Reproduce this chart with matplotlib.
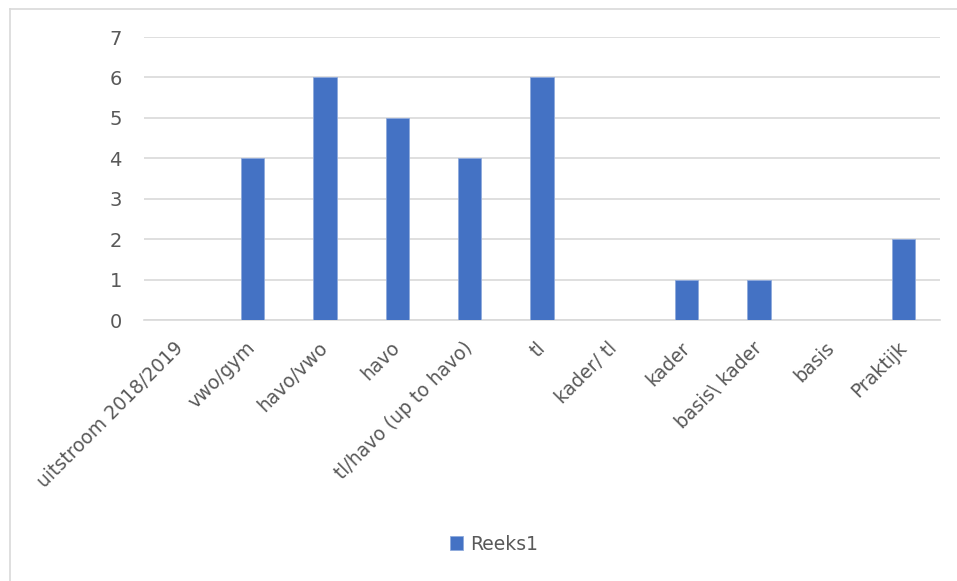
# Uitstroom 2018/2019 bar chart (Excel style, single series "Reeks1")

import matplotlib.pyplot as plt
import numpy as np
from matplotlib.lines import Line2D

BLUE = "#4472C4"
GRID = "#D9D9D9"
TXT = "#595959"

# Categories and counts
categories = [
    "uitstroom 2018/2019",
    "vwo/gym",
    "havo/vwo",
    "havo",
    "tl/havo (up to havo)",
    "tl",
    "kader/ tl",
    "kader",
    "basis\\ kader",
    "basis",
    "Praktijk",
]
values = [0, 4, 6, 5, 4, 6, 0, 1, 1, 0, 2]
series_name = "Reeks1"

plt.rcParams["font.family"] = ["DejaVu Sans"]

fig = plt.figure(figsize=(9.57, 5.81), dpi=100)
ax = fig.add_axes([0.1505, 0.4492, 0.8317, 0.4871])

x = np.arange(len(categories))
ax.bar(x, values, width=0.32, color=BLUE, edgecolor="#8FAADC", linewidth=0.6,
       label=series_name, zorder=3)

ax.set_xlim(-0.5, len(categories) - 0.5)
ax.set_ylim(0, 7)
ax.set_yticks(range(0, 8))
ax.yaxis.grid(True, color=GRID, linewidth=1.2, zorder=0)
ax.set_axisbelow(True)

for s in ["top", "right", "left"]:
    ax.spines[s].set_visible(False)
ax.spines["bottom"].set_color(GRID)
ax.spines["bottom"].set_linewidth(1.2)

ax.tick_params(axis="y", length=0, pad=16, labelsize=14, labelcolor=TXT)
ax.tick_params(axis="x", length=0, pad=18, labelsize=13.5, labelcolor=TXT)
ax.set_xticks(x)
ax.set_xticklabels(categories, rotation=45, ha="right", va="center",
                   rotation_mode="anchor")

# Legend at the bottom
ax.legend(loc="center left", bbox_to_anchor=(433 / 957, 1 - 544 / 581),
          bbox_transform=fig.transFigure, frameon=False, fontsize=13.5,
          labelcolor=TXT, handlelength=0.7, handleheight=0.7, handletextpad=0.4)

# Chart area border (only top and left edges show in the picture)
fig.add_artist(Line2D([10 / 957, 10 / 957], [0, 1 - 9 / 581], color=GRID,
                      linewidth=1.2, transform=fig.transFigure))
fig.add_artist(Line2D([10 / 957, 1], [1 - 9 / 581, 1 - 9 / 581], color=GRID,
                      linewidth=1.2, transform=fig.transFigure))

fig.savefig("out.png", dpi=100)
